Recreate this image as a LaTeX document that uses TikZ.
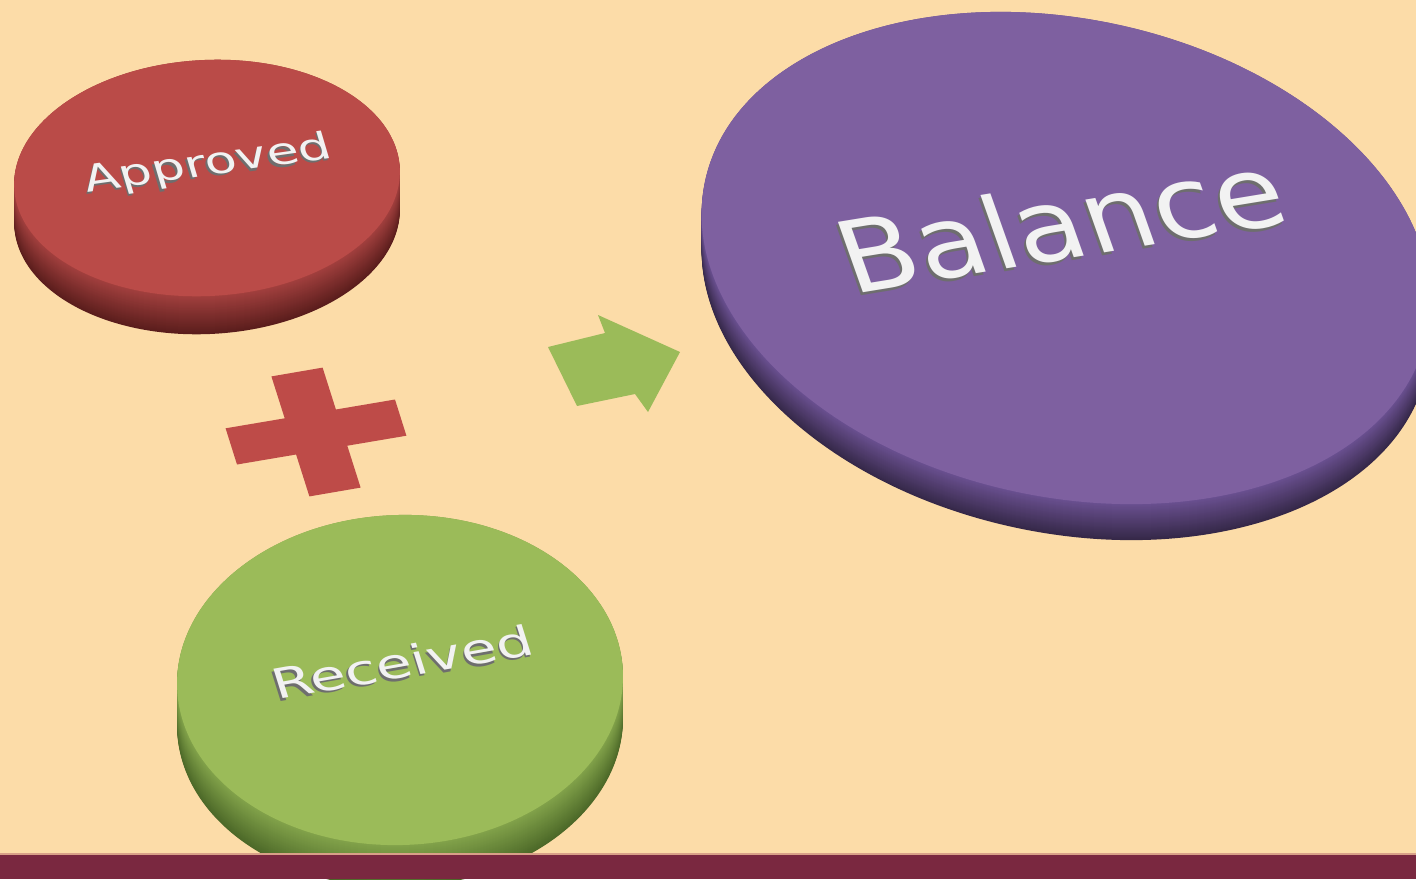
\documentclass[tikz,border=0pt]{standalone}
\usepackage{fontspec}
\newfontfamily\labelfont{DejaVu Sans}
\definecolor{peach}{HTML}{FCDCA8}
\definecolor{barwine}{HTML}{7A2840}
\definecolor{barline}{HTML}{D9A088}
\definecolor{redtop}{HTML}{BA4B48}
\definecolor{redside}{HTML}{A2403E}
\definecolor{reddark}{HTML}{5A1D1C}
\definecolor{greentop}{HTML}{9BBB59}
\definecolor{greenside}{HTML}{82A24A}
\definecolor{greendark}{HTML}{4C6828}
\definecolor{purpletop}{HTML}{7E60A0}
\definecolor{purpleside}{HTML}{6A5090}
\definecolor{purpledark}{HTML}{352848}
\definecolor{signred}{HTML}{BE4B48}
\definecolor{textshade}{HTML}{6E6E6E}
\begin{document}
\begin{tikzpicture}[x=0.5pt, y=-0.5pt,
    disklabel/.style = {text=white!95!black, anchor=base, inner sep=0pt},
    labelshadow/.style = {disklabel, text=textshade}]
  \useasboundingbox (0,0) rectangle (1416,879);
  \clip (0,0) rectangle (1416,879);
  \fill[peach] (0,0) rectangle (1416,879);
  % discs: centre / radii / turn / rim depth / colours
  \foreach \cx/\cy/\ra/\rb/\turn/\rim/\fc/\sc/\dc in {
      207/178/193/118/3/38/redtop/redside/reddark,
      1066/258/369/239/-12/36/purpletop/purpleside/purpledark,
      400/680/223/165/2/42/greentop/greenside/greendark} {
    \foreach \k in {0,...,\rim} {
      \pgfmathtruncatemacro\dep{\rim-\k}
      \pgfmathtruncatemacro\mix{100*\dep/\rim}
      \pgfmathtruncatemacro\yy{\cy+\dep}
      \fill[\dc!\mix!\sc, rotate around={\turn:(\cx,\yy)}] (\cx,\yy) ellipse [x radius=\ra, y radius=\rb];
    }
    \fill[\fc, rotate around={\turn:(\cx,\cy)}] (\cx,\cy) ellipse [x radius=\ra, y radius=\rb];
  }
  % plus and arrow
  \fill[signred] (271.4,376.4) -- (322.6,367.6) -- (335.9,409.5) -- (395.0,399.5) -- (406.4,435.7) -- (347.3,445.7)
    -- (360.6,487.6) -- (309.4,496.4) -- (296.1,454.5) -- (237.0,464.5) -- (225.6,428.3) -- (284.7,418.3) -- cycle;
  \fill[greentop] (548,347) -- (605,333) -- (598,315) -- (680,352) -- (648,412) -- (635,394) -- (577,406) -- cycle;
  % labels
  \node[labelshadow, rotate=8, xslant=-0.15, yscale=0.72, font=\labelfont\fontsize{26}{30}\selectfont] (approvedshadow) at (209.5,177.5) {Approved};
  \node[disklabel, rotate=8, xslant=-0.15, yscale=0.72, font=\labelfont\fontsize{26}{30}\selectfont] (approved) at (211,175) {Approved};
  \node[labelshadow, rotate=10, xslant=-0.13, yscale=0.72, font=\labelfont\fontsize{29}{33}\selectfont] (receivedshadow) at (405.5,679.5) {Received};
  \node[disklabel, rotate=10, xslant=-0.13, yscale=0.72, font=\labelfont\fontsize{29}{33}\selectfont] (received) at (407,677) {Received};
  \node[labelshadow, rotate=9.3, xslant=-0.18, yscale=0.9, font=\labelfont\fontsize{56}{62}\selectfont] (balanceshadow) at (1071,261) {Balance};
  \node[disklabel, rotate=9.3, xslant=-0.18, yscale=0.9, font=\labelfont\fontsize{56}{62}\selectfont] (balance) at (1073,258) {Balance};
  % footer band
  \fill[barwine] (0,854) rectangle (1416,879);
  \draw[barline, line width=1pt] (0,854) -- (1416,854);
\end{tikzpicture}
\end{document}
